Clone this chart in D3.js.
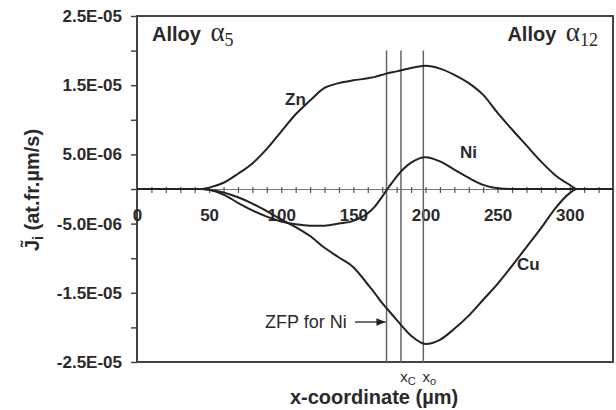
<!DOCTYPE html>
<html>
<head>
<meta charset="utf-8">
<script src="https://cdn.jsdelivr.net/npm/d3@7"></script>
<style>
  body { margin: 0; background: #fff; }
  text { font-family: "Liberation Sans", Arial, sans-serif; fill: #2a2a2a; }
</style>
</head>
<body>
<script>
// x positions (µm) shared by the three flux curves
const xs = [0, 40, 45, 50, 60, 70, 80, 90, 100, 110, 120, 130, 140, 150, 160, 165, 170, 175, 180,
            190, 200, 210, 220, 230, 240, 250, 260, 270, 280, 290, 300, 305, 320, 330];

// interdiffusion fluxes, in units of 1E-06 at.fr.µm/s
const zn = [0, 0, 0, 0.2, 0.9, 2.2, 3.7, 5.8, 8.3, 10.8, 12.8, 14.6, 15.3, 15.7, 16.0, 16.2, 16.5, 16.8, 17.0,
            17.5, 17.8, 17.4, 16.5, 15.3, 13.6, 11.0, 8.6, 6.3, 4.0, 2.0, 0.6, 0, 0, 0];
const ni = [0, 0, 0, -0.1, -0.8, -2.0, -3.1, -4.0, -4.7, -5.1, -5.3, -5.3, -5.0, -4.6, -3.5, -2.5, -1.1, 0.4, 1.8,
            3.8, 4.6, 4.0, 2.8, 1.6, 0.6, 0.1, 0, 0, 0, 0, 0, 0, 0, 0];
const cu = [0, 0, 0, -0.1, -0.5, -1.2, -2.1, -3.2, -4.4, -5.5, -6.8, -8.5, -9.9, -11.3, -13.8, -15.1, -16.5, -17.7, -18.9,
            -21.2, -22.4, -21.8, -20.2, -18.3, -16.0, -13.7, -11.1, -8.4, -5.7, -2.8, -0.6, 0, 0, 0];

const yMajor = [-2.5e-5, -1.5e-5, -5e-6, 5e-6, 1.5e-5, 2.5e-5];
const yMinor = [-2e-5, -1e-5, 0, 1e-5, 2e-5];
const xLabels = [0, 50, 100, 150, 200, 250, 300];
const planes = [173, 183, 198.5];   // ZFP for Ni, x_C, x_o

const W = 616, H = 410;
const mLeft = 137, mRight = 613, mTop = 16, mBottom = 362;

const svg = d3.select("body").append("svg")
    .attr("width", W)
    .attr("height", H);

const x = d3.scaleLinear().domain([0, 330]).range([mLeft, mRight]);
const y = d3.scaleLinear().domain([-2.5e-5, 2.5e-5]).range([mBottom, mTop]);

const fmt = d => d.toExponential(1).toUpperCase().replace(/E([+-])(\d)$/, "E$10$2");

// frame
svg.append("rect")
    .attr("x", mLeft).attr("y", mTop)
    .attr("width", mRight - mLeft).attr("height", mBottom - mTop)
    .attr("fill", "none").attr("stroke", "#444").attr("stroke-width", 2);

// y axis, labelled and minor ticks
const yAx = svg.append("g")
    .attr("transform", `translate(${mLeft},0)`)
    .call(d3.axisLeft(y).tickValues(yMajor).tickSize(6).tickPadding(9).tickFormat(fmt));
yAx.select(".domain").remove();
yAx.selectAll("line").attr("stroke", "#444").attr("stroke-width", 1.5);
yAx.selectAll("text")
    .style("font-family", "'Liberation Sans', Arial, sans-serif")
    .style("font-size", "17px").style("font-weight", "bold").attr("fill", "#2a2a2a");

const yMin = svg.append("g")
    .attr("transform", `translate(${mLeft},0)`)
    .call(d3.axisLeft(y).tickValues(yMinor).tickSize(6).tickFormat(""));
yMin.select(".domain").remove();
yMin.selectAll("line").attr("stroke", "#444").attr("stroke-width", 1.5);

// zero line with ticks every 10 µm
const xAx = svg.append("g")
    .attr("transform", `translate(0,${y(0)})`)
    .call(d3.axisBottom(x).tickValues(d3.range(0, 331, 10)).tickSize(4).tickFormat(""));
xAx.select(".domain").attr("stroke", "#777").attr("stroke-width", 1.2);
xAx.selectAll(".tick line").attr("y1", -2).attr("stroke", "#555").attr("stroke-width", 1.2);

const xLab = svg.append("g")
    .attr("transform", `translate(0,${y(0)})`)
    .call(d3.axisBottom(x).tickValues(xLabels).tickSize(0).tickPadding(20).tickFormat(d => d));
xLab.select(".domain").remove();
xLab.selectAll("text")
    .style("font-family", "'Liberation Sans', Arial, sans-serif")
    .style("font-size", "17px").style("font-weight", "bold").attr("fill", "#2a2a2a");

// vertical reference planes
svg.selectAll(".plane")
    .data(planes)
    .enter()
  .append("line")
    .attr("class", "plane")
    .attr("x1", d => x(d)).attr("x2", d => x(d))
    .attr("y1", y(2e-5)).attr("y2", mBottom)
    .attr("stroke", "#666").attr("stroke-width", 1.5);

// flux curves
const line = d3.line()
    .x((d, i) => x(xs[i]))
    .y(d => y(d * 1e-6))
    .curve(d3.curveMonotoneX);

svg.selectAll(".flux")
    .data([zn, ni, cu])
    .enter()
  .append("path")
    .attr("class", "flux")
    .attr("d", line)
    .attr("fill", "none")
    .attr("stroke", "#222")
    .attr("stroke-width", 2);

// curve labels
const curveLabels = [["Zn", 285, 105], ["Ni", 460, 158], ["Cu", 517, 270]];
svg.selectAll(".clab")
    .data(curveLabels)
    .enter()
  .append("text")
    .attr("class", "clab")
    .attr("x", d => d[1]).attr("y", d => d[2])
    .style("font-size", "17px").style("font-weight", "bold")
    .text(d => d[0]);

// alloy labels
function alloy(xPos, sub, anchor) {
  const t = svg.append("text").attr("x", xPos).attr("y", 41).attr("text-anchor", anchor)
      .style("font-size", "20px").style("font-weight", "bold");
  t.append("tspan").text("Alloy ");
  t.append("tspan").text("α").attr("dx", 4).style("font-family", "'Liberation Serif', serif")
      .style("font-weight", "normal").style("font-size", "27px");
  t.append("tspan").text(sub).attr("dy", 5).style("font-family", "'Liberation Serif', serif")
      .style("font-weight", "normal").style("font-size", "18px");
}
alloy(152, "5", "start");
alloy(598, "12", "end");

// ZFP annotation with arrow
svg.append("defs").append("marker")
    .attr("id", "arr").attr("viewBox", "0 0 10 10")
    .attr("refX", 10).attr("refY", 5)
    .attr("markerWidth", 7).attr("markerHeight", 7)
    .attr("orient", "auto")
  .append("path").attr("d", "M0,1 L10,5 L0,9 z").attr("fill", "#222");

svg.append("text").attr("x", 265).attr("y", 328)
    .style("font-size", "18px")
    .text("ZFP for Ni");
svg.append("line")
    .attr("x1", 355).attr("x2", x(planes[0]) - 1)
    .attr("y1", 322).attr("y2", 322)
    .attr("stroke", "#222").attr("stroke-width", 1.3)
    .attr("marker-end", "url(#arr)");

// x_C and x_o under the planes
[["x", "C", x(planes[1]) + 7], ["x", "o", x(planes[2]) + 6]].forEach(d => {
  const t = svg.append("text").attr("x", d[2]).attr("y", 382).attr("text-anchor", "middle")
      .style("font-size", "15px");
  t.append("tspan").text(d[0]);
  t.append("tspan").text(d[1]).attr("dy", 3).style("font-size", "11px");
});

// axis titles
svg.append("text")
    .attr("x", 374).attr("y", 404)
    .attr("text-anchor", "middle")
    .style("font-size", "20px").style("font-weight", "bold")
    .text("x-coordinate (µm)");

const yt = svg.append("text")
    .attr("transform", "translate(39,190) rotate(-90)")
    .attr("text-anchor", "middle")
    .style("font-size", "20px").style("font-weight", "bold");
yt.append("tspan").text("J\u0303");
yt.append("tspan").text("i").attr("dy", 4).style("font-size", "14px");
yt.append("tspan").text(" (at.fr.µm/s)").attr("dy", -4);
</script>
</body>
</html>
